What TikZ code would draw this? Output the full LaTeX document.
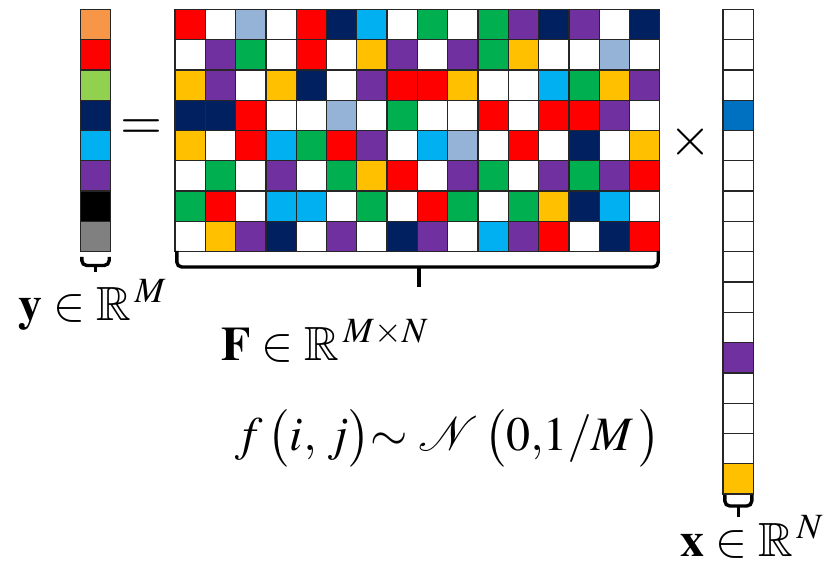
\documentclass[tikz,border=0pt]{standalone}
\usepackage{mathptmx}
\usepackage{amssymb}
\definecolor{cR}{HTML}{FF0000}
\definecolor{cW}{HTML}{FFFFFF}
\definecolor{cL}{HTML}{95B3D7}
\definecolor{cN}{HTML}{002060}
\definecolor{cC}{HTML}{00B0F0}
\definecolor{cG}{HTML}{00B050}
\definecolor{cP}{HTML}{7030A0}
\definecolor{cY}{HTML}{FFC000}
\definecolor{cO}{HTML}{F79646}
\definecolor{cA}{HTML}{92D050}
\definecolor{cK}{HTML}{000000}
\definecolor{cS}{HTML}{808080}
\definecolor{cB}{HTML}{0070C0}
\tikzset{
  cellst/.style={draw=black!85, line width=1.3pt},
  bracest/.style={draw=black, line width=3.4pt, rounded corners=5pt},
  tipst/.style={draw=black, line width=3.4pt},
  mathlbl/.style={anchor=base, inner sep=0pt, font=\fontsize{48}{56}\selectfont},
  oplbl/.style={inner sep=0pt, font=\fontsize{54}{60}\selectfont}
}
\begin{document}
\begin{tikzpicture}[x=1pt,y=-1pt]
\useasboundingbox (0,0) rectangle (833,564);
% matrix F
\foreach \row [count=\r from 0] in {
 {R,W,L,W,R,N,C,W,G,W,G,P,N,P,W,N},
 {W,P,G,W,R,W,Y,P,W,P,G,Y,W,W,L,W},
 {Y,P,W,Y,N,W,P,R,R,Y,W,W,C,G,Y,P},
 {N,N,R,W,W,L,W,G,W,W,R,W,R,R,P,W},
 {Y,W,R,C,G,R,P,W,C,L,W,R,W,N,W,Y},
 {W,G,W,P,W,G,Y,R,W,P,G,W,P,G,P,R},
 {G,R,W,C,C,W,G,W,R,G,W,G,Y,N,C,W},
 {W,Y,P,N,W,P,W,N,P,W,C,P,R,W,N,R}}{
  \foreach \c [count=\k from 0] in \row {
    \draw[cellst, fill=c\c] ({175+\k*30.3},{9.3+\r*30.3}) rectangle ++(30.3,30.3);
  }
}
% vector y
\foreach \c [count=\k from 0] in {O,R,A,N,C,P,K,S}{
  \draw[cellst, fill=c\c] (80.3,{9.3+\k*30.3}) rectangle ++(30.3,30.3);
}
% vector x
\foreach \c [count=\k from 0] in {W,W,W,B,W,W,W,W,W,W,W,P,W,W,W,Y}{
  \draw[cellst, fill=c\c] (723,{9.3+\k*30.3}) rectangle ++(30.3,30.3);
}
% braces
\draw[bracest] (81.8,257) -- (81.8,265.5) -- (109.2,265.5) -- (109.2,257);
\draw[tipst] (95.5,265.5) -- (95.5,272);
\draw[bracest] (176.8,251) -- (176.8,267) -- (658.2,267) -- (658.2,251);
\draw[tipst] (419,267) -- (419,287);
\draw[bracest] (724.8,495) -- (724.8,506) -- (751.8,506) -- (751.8,495);
\draw[tipst] (738.3,506) -- (738.3,517);
% operators
\node[oplbl] (eq) at (141,130) {$=$};
\node[oplbl] (times) at (690,142) {$\times$};
% labels
\node[mathlbl] (ylab) at (92.5,320) {$\mathbf{y}\in\mathbb{R}^{\,M}$};
\node[mathlbl] (Flab) at (325,360) {$\mathbf{F}\in\mathbb{R}^{\,M\times N}$};
\node[mathlbl] (flab) at (448,450) {$f\,\bigl(i,\,j\bigr){\sim}\;\mathcal{N}\,\bigl(0{,}1/M\,\bigr)$};
\node[mathlbl] (xlab) at (752,556) {$\mathbf{x}\in\mathbb{R}^{\,N}$};
\end{tikzpicture}
\end{document}
